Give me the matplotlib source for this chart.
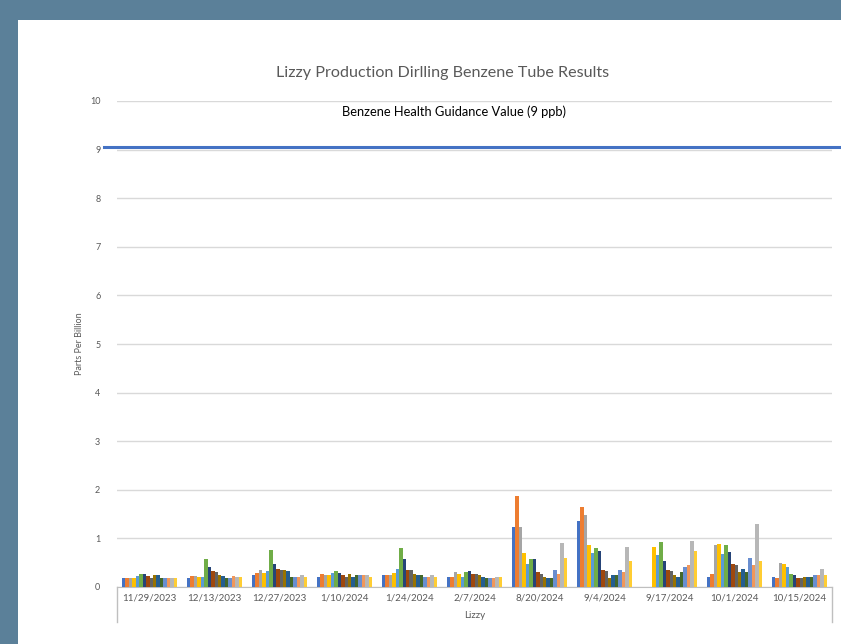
import numpy as np
import matplotlib.pyplot as plt
from matplotlib.patches import Rectangle
from matplotlib.lines import Line2D
import matplotlib.transforms as mtransforms

plt.rcParams['font.family'] = ['Lato', 'DejaVu Sans']

# sample dates (category axis)
dates = ['11/29/2023', '12/13/2023', '12/27/2023', '1/10/2024', '1/24/2024', '2/7/2024',
         '8/20/2024', '9/4/2024', '9/17/2024', '10/1/2024', '10/15/2024']

# one list per benzene tube, values in ppb (nan = no result)
nan = np.nan
tube_01 = [0.19, 0.18, 0.24, 0.21, 0.24, 0.21, 1.24, 1.36, nan, 0.21, 0.21]
tube_02 = [0.19, 0.23, 0.29, 0.27, 0.24, 0.21, 1.87, 1.65, nan, 0.27, 0.18]
tube_03 = [0.19, 0.23, 0.35, 0.24, 0.24, 0.30, 1.24, 1.48, nan, 0.86, 0.50]
tube_04 = [0.19, 0.21, 0.29, 0.24, 0.29, 0.27, 0.69, 0.86, 0.83, 0.88, 0.47]
tube_05 = [0.22, 0.21, 0.32, 0.29, 0.38, 0.21, 0.47, 0.69, 0.66, 0.68, 0.42]
tube_06 = [0.27, 0.57, 0.76, 0.32, 0.80, 0.30, 0.57, 0.80, 0.92, 0.86, 0.27]
tube_07 = [0.27, 0.42, 0.47, 0.29, 0.57, 0.33, 0.57, 0.74, 0.54, 0.71, 0.24]
tube_08 = [0.22, 0.33, 0.38, 0.24, 0.36, 0.27, 0.30, 0.36, 0.36, 0.47, 0.18]
tube_09 = [0.19, 0.30, 0.36, 0.21, 0.36, 0.27, 0.27, 0.33, 0.33, 0.45, 0.18]
tube_10 = [0.24, 0.25, 0.36, 0.27, 0.27, 0.24, 0.21, 0.18, 0.24, 0.30, 0.21]
tube_11 = [0.24, 0.23, 0.33, 0.21, 0.24, 0.21, 0.18, 0.24, 0.21, 0.38, 0.21]
tube_12 = [0.19, 0.18, 0.21, 0.24, 0.24, 0.18, 0.18, 0.24, 0.30, 0.30, 0.21]
tube_13 = [0.19, 0.18, 0.21, 0.24, 0.21, 0.18, 0.36, 0.36, 0.42, 0.59, 0.24]
tube_14 = [0.19, 0.23, 0.21, 0.24, 0.21, 0.18, 0.27, 0.30, 0.45, 0.45, 0.24]
tube_15 = [0.19, 0.21, 0.24, 0.24, 0.24, 0.21, 0.90, 0.83, 0.95, 1.30, 0.38]
tube_16 = [0.19, 0.21, 0.21, 0.21, 0.21, 0.21, 0.59, 0.54, 0.74, 0.54, 0.24]

tubes = [tube_01, tube_02, tube_03, tube_04, tube_05, tube_06, tube_07, tube_08,
         tube_09, tube_10, tube_11, tube_12, tube_13, tube_14, tube_15, tube_16]

guidance = 9.05

# excel office palette
colors = ['#4472C4', '#ED7D31', '#A5A5A5', '#FFC000', '#5B9BD5', '#70AD47',
          '#264478', '#9E480E', '#636363', '#997300', '#255E91', '#43682B',
          '#698ED0', '#F1975A', '#B7B7B7', '#FFCD33']

fig = plt.figure(figsize=(8.41, 6.44), dpi=100)
fig.patch.set_facecolor('#5B8099')
fig.patches.append(Rectangle((18 / 841, 0), 1, (644 - 20) / 644, transform=fig.transFigure,
                             facecolor='white', edgecolor='none', zorder=-10))

ax = fig.add_axes([117 / 841, 57 / 644, 715 / 841, 486 / 644])
ax.set_facecolor('none')

x = np.arange(len(dates))
group_w = 0.86
bar_w = group_w / len(tubes)
for i, t in enumerate(tubes):
    ax.bar(x - group_w / 2 + bar_w * (i + 0.5), t, width=bar_w, color=colors[i], zorder=3)

ax.set_xlim(-0.5, len(dates) - 0.5)
ax.set_ylim(0, 10)
ax.set_yticks(range(0, 11))
ax.yaxis.grid(True, color='#D9D9D9', linewidth=1, zorder=0)
ax.tick_params(axis='y', length=0, labelsize=6.5, labelcolor='#595959', pad=12)
ax.set_xticks(x)
ax.set_xticklabels(dates)
ax.tick_params(axis='x', length=0, labelsize=7, labelcolor='#595959', pad=5)
for s in ['top', 'right', 'left']:
    ax.spines[s].set_visible(False)
ax.spines['bottom'].set_color('#BFBFBF')

# outer category box lines
for xe in [-0.5, len(dates) - 0.5]:
    ax.plot([xe, xe], [0, -0.72], color='#BFBFBF', lw=1, clip_on=False)

ax.set_ylabel('Parts Per Billion', fontsize=6.5, color='#595959', labelpad=-2)
ax.yaxis.set_label_coords(-0.046, 0.5)
ax.text(0.5, -0.058, 'Lizzy', transform=ax.transAxes, ha='center', va='center',
        fontsize=7, color='#595959')

# guidance line drawn across past the plot area
trans = mtransforms.blended_transform_factory(ax.transAxes, ax.transData)
ax.add_line(Line2D([-0.018, 1.02], [guidance, guidance], transform=trans,
                   color='#4472C4', lw=2.2, clip_on=False, zorder=4))
fig.text(454 / 841, 1 - 112 / 644, 'Benzene Health Guidance Value (9 ppb)',
         ha='center', va='center', fontsize=9.3, color='black')

fig.text(443 / 841, 1 - 73 / 644, 'Lizzy Production Dirlling Benzene Tube Results',
         ha='center', va='center', fontsize=11.6, color='#595959')

fig.savefig('out.png', dpi=100)
